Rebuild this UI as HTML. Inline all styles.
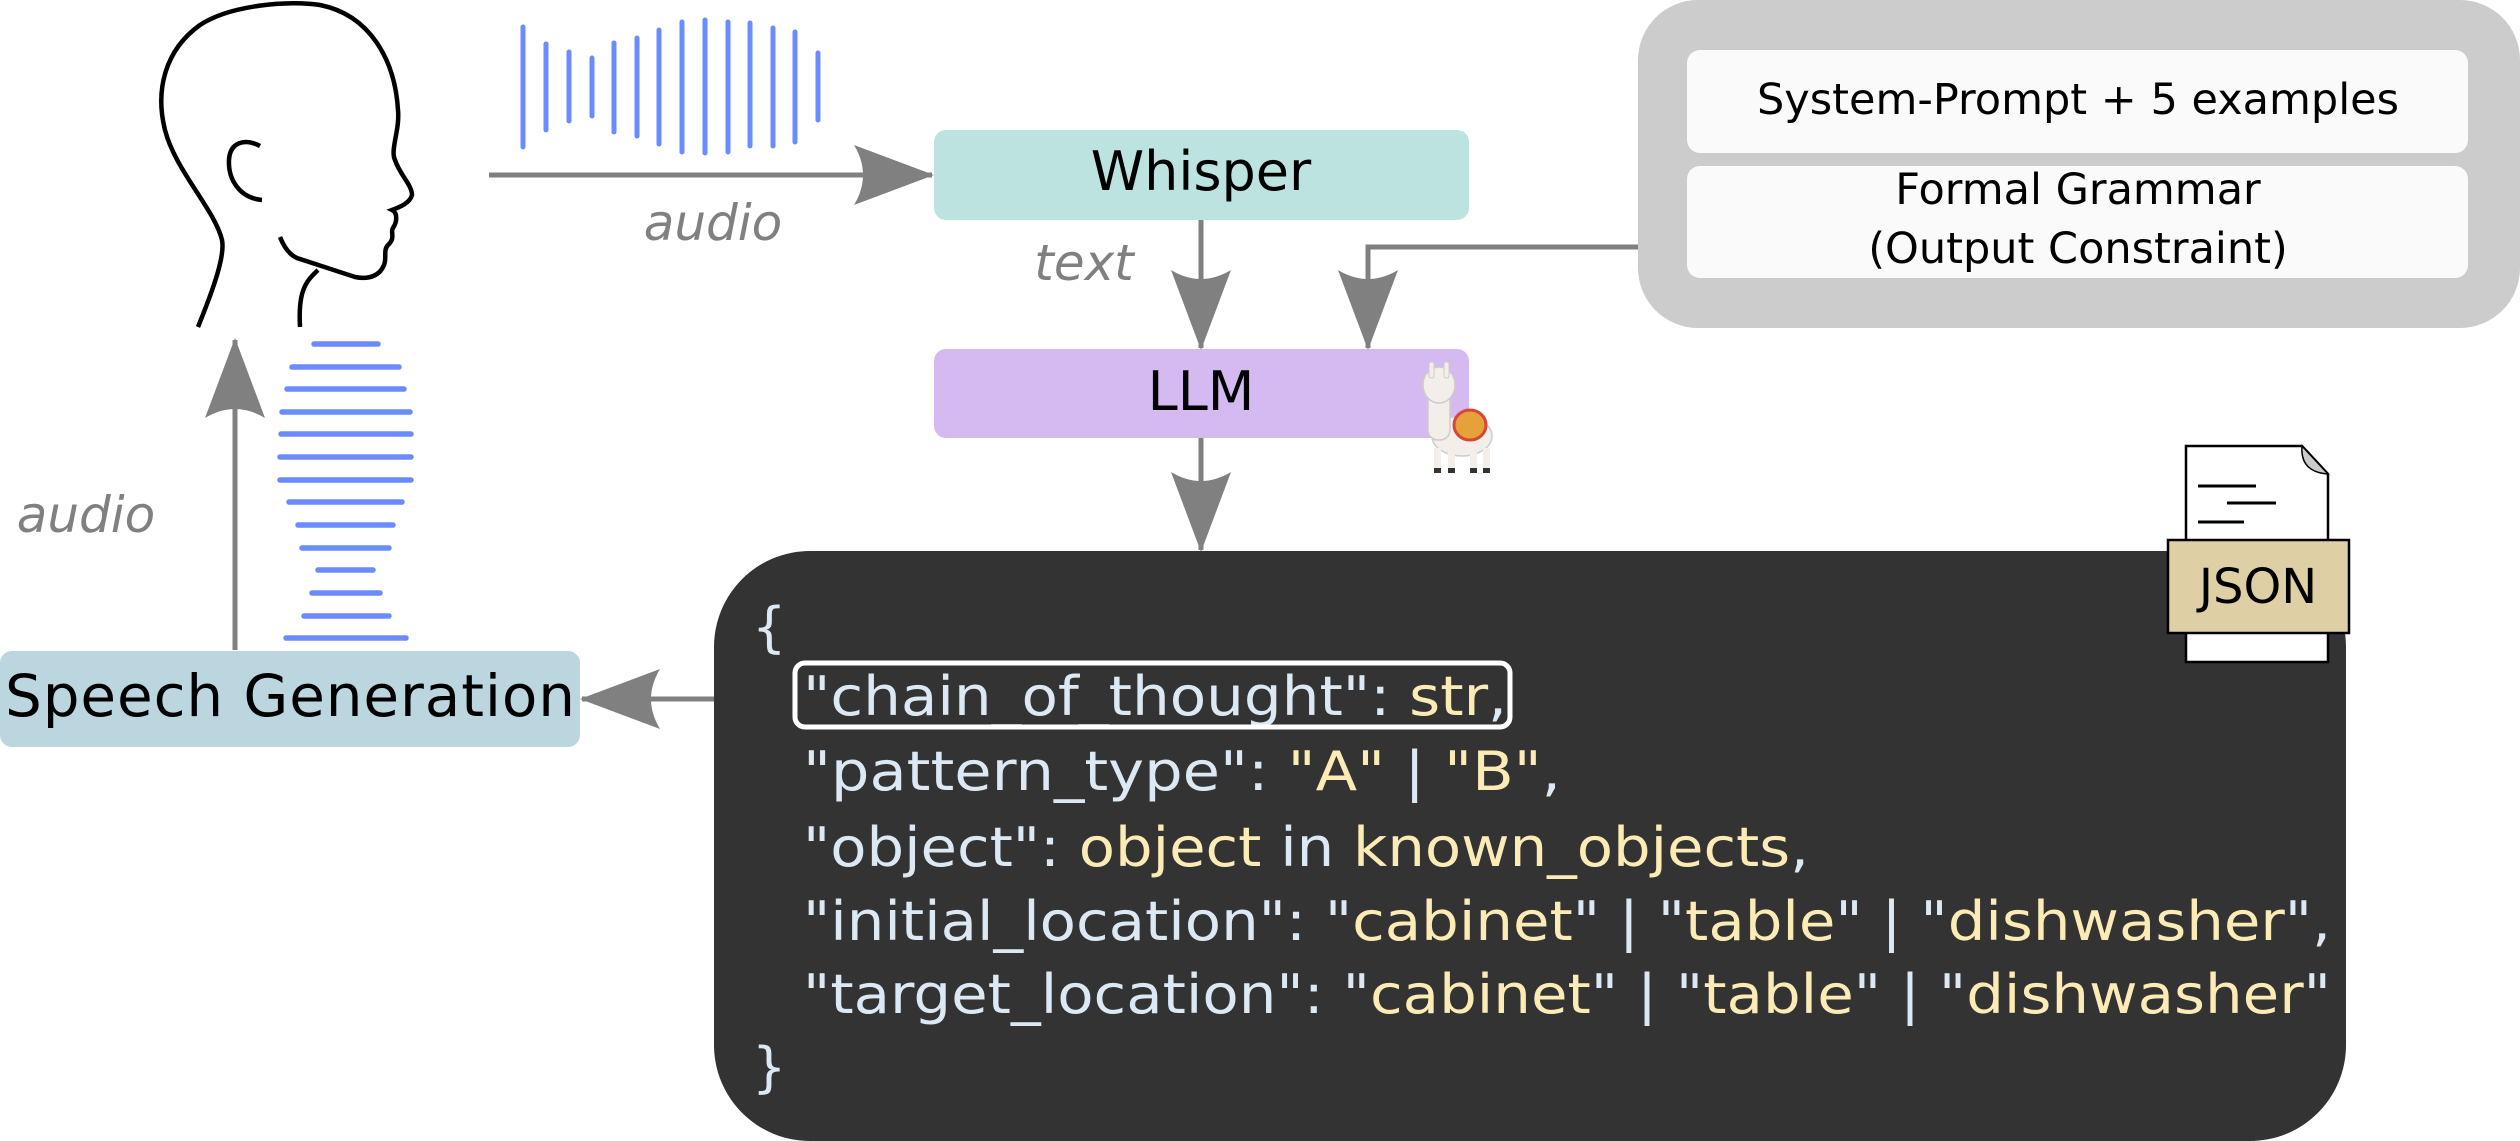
<!DOCTYPE html>
<html><head><meta charset="utf-8"><style>html,body{margin:0;padding:0;background:#fff}svg{display:block}</style></head>
<body>
<svg width="2520" height="1141" viewBox="0 0 2520 1141" xmlns="http://www.w3.org/2000/svg" font-family="DejaVu Sans, Liberation Sans, sans-serif">
<defs>
<marker id="ah" viewBox="0 0 80 60" refX="78" refY="30" markerWidth="80" markerHeight="60" markerUnits="userSpaceOnUse" orient="auto">
<path d="M0,0 L80,30 L0,60 Q18,30 0,0 Z" fill="#808080"/>
</marker>
</defs>
<!-- head -->
<g fill="none" stroke="#000" stroke-width="4.5" stroke-linecap="butt">
<path d="M198,327 C215,285 225,255 222,240 C215,210 175,170 165,130 C155,90 165,50 200,25 C230,5 290,0 320,5 C370,15 395,60 398,110 C400,130 390,150 395,160 C400,175 412,185 412,195 C410,203 400,207 392,210 C398,213 397,222 393,228 C390,232 396,238 388,245 C383,250 387,258 384,265 C380,275 370,280 355,277 L297,258 C290,255 284,247 280,237"/>
<path d="M318,270 C305,282 298,292 300,327"/>
<path d="M260,146 C245,138 230,142 229,160 C228,180 240,198 262,200"/>
</g>
<!-- waveform vertical -->
<g stroke="#6b8cff" stroke-width="5" stroke-linecap="round">
<line x1="523" y1="27" x2="523" y2="147"/><line x1="546" y1="44" x2="546" y2="130"/>
<line x1="569" y1="52" x2="569" y2="121"/><line x1="592" y1="58" x2="592" y2="116"/>
<line x1="614" y1="43" x2="614" y2="132"/><line x1="637" y1="38" x2="637" y2="136"/>
<line x1="659" y1="30" x2="659" y2="144"/><line x1="682" y1="22" x2="682" y2="152"/>
<line x1="705" y1="20" x2="705" y2="153"/><line x1="728" y1="22" x2="728" y2="152"/>
<line x1="750" y1="23" x2="750" y2="146"/><line x1="773" y1="28" x2="773" y2="146"/>
<line x1="795" y1="32" x2="795" y2="142"/><line x1="818" y1="53" x2="818" y2="120"/>
</g>
<!-- waveform horizontal -->
<g stroke="#6b8cff" stroke-width="5.5" stroke-linecap="round">
<line x1="314" y1="344" x2="378" y2="344"/><line x1="292" y1="367" x2="399" y2="367"/>
<line x1="287" y1="389" x2="404" y2="389"/><line x1="282" y1="412" x2="410" y2="412"/>
<line x1="281" y1="434" x2="411" y2="434"/><line x1="280" y1="457" x2="411" y2="457"/>
<line x1="280" y1="480" x2="411" y2="480"/><line x1="289" y1="502" x2="402" y2="502"/>
<line x1="298" y1="525" x2="393" y2="525"/><line x1="302" y1="548" x2="389" y2="548"/>
<line x1="318" y1="570" x2="373" y2="570"/><line x1="312" y1="593" x2="380" y2="593"/>
<line x1="304" y1="616" x2="389" y2="616"/><line x1="286" y1="638" x2="406" y2="638"/>
</g>
<!-- grey panel -->
<rect x="1638" y="0" width="882" height="328" rx="60" fill="#cccccc"/>
<rect x="1687" y="50" width="781" height="103" rx="13" fill="#fafafa"/>
<rect x="1687" y="166" width="781" height="112" rx="13" fill="#fafafa"/>
<g font-size="43" text-anchor="middle" fill="#000">
<text x="2078" y="114">System-Prompt + 5 examples</text>
<text x="2078" y="204">Formal Grammar</text>
<text x="2078" y="263">(Output Constraint)</text>
</g>
<!-- boxes -->
<rect x="934" y="130" width="535" height="90" rx="12" fill="#bde3e0"/>
<text x="1201" y="190" font-size="54" text-anchor="middle">Whisper</text>
<rect x="934" y="349" width="535" height="89" rx="12" fill="#d4baf0"/>
<text x="1201" y="410" font-size="54" text-anchor="middle">LLM</text>
<rect x="0" y="651" width="580" height="96" rx="12" fill="#bcd6e0"/>
<text x="290" y="716" font-size="58" text-anchor="middle" textLength="570">Speech Generation</text>
<!-- arrows -->
<g stroke="#808080" stroke-width="5" fill="none">
<line x1="489" y1="175" x2="932" y2="175" marker-end="url(#ah)"/>
<line x1="1201" y1="220" x2="1201" y2="348" marker-end="url(#ah)"/>
<polyline points="1638,247 1368,247 1368,348" marker-end="url(#ah)"/>
<line x1="1201" y1="438" x2="1201" y2="550" marker-end="url(#ah)"/>
<line x1="795" y1="699" x2="582" y2="699" marker-end="url(#ah)"/>
<line x1="235" y1="650" x2="235" y2="340" marker-end="url(#ah)"/>
</g>
<g font-size="50" font-style="italic" fill="#808080" text-anchor="middle">
<text x="713" y="240">audio</text>
<text x="1084" y="280">text</text>
<text x="86" y="532">audio</text>
</g>
<!-- llama -->
<g>
<ellipse cx="1462" cy="436" rx="30" ry="20" fill="#f3eeea" stroke="#ccc" stroke-width="1.5"/>
<rect x="1428" y="380" width="22" height="60" rx="10" fill="#f3eeea" stroke="#ccc" stroke-width="1.5"/>
<ellipse cx="1439" cy="385" rx="16" ry="18" fill="#f3eeea" stroke="#ccc" stroke-width="1.5"/>
<rect x="1429" y="362" width="5" height="16" rx="2" fill="#f3eeea" stroke="#ccc"/>
<rect x="1444" y="362" width="5" height="16" rx="2" fill="#f3eeea" stroke="#ccc"/>
<ellipse cx="1470" cy="425" rx="16" ry="15" fill="#e5a23a" stroke="#d9453a" stroke-width="3"/>
<rect x="1434" y="448" width="7" height="24" fill="#f3eeea"/><rect x="1448" y="448" width="7" height="24" fill="#f3eeea"/>
<rect x="1470" y="448" width="7" height="24" fill="#f3eeea"/><rect x="1483" y="448" width="7" height="24" fill="#f3eeea"/>
<g fill="#333"><rect x="1434" y="468" width="7" height="5"/><rect x="1448" y="468" width="7" height="5"/><rect x="1470" y="468" width="7" height="5"/><rect x="1483" y="468" width="7" height="5"/></g>
</g>
<!-- dark code box -->
<rect x="714" y="551" width="1632" height="590" rx="96" fill="#333333"/>
<g font-size="54" fill="#dce9f5">
<text x="752" y="646">{</text>
<text x="803" y="715" textLength="704" lengthAdjust="spacingAndGlyphs">"chain_of_thought": <tspan fill="#fdebb5">str</tspan>,</text>
<text x="803" y="790" textLength="758" lengthAdjust="spacingAndGlyphs">"pattern_type":  <tspan fill="#fdebb5">"A"</tspan> | <tspan fill="#fdebb5">"B"</tspan>,</text>
<text x="803" y="866" textLength="1006" lengthAdjust="spacingAndGlyphs">"object": <tspan fill="#fdebb5">object</tspan> in <tspan fill="#fdebb5">known_objects</tspan>,</text>
<text x="803" y="940" textLength="1528" lengthAdjust="spacingAndGlyphs">"initial_location": "<tspan fill="#fdebb5">cabinet</tspan>" | "<tspan fill="#fdebb5">table</tspan>" | "<tspan fill="#fdebb5">dishwasher</tspan>",</text>
<text x="803" y="1013" textLength="1528" lengthAdjust="spacingAndGlyphs">"target_location": "<tspan fill="#fdebb5">cabinet</tspan>" | "<tspan fill="#fdebb5">table</tspan>" | "<tspan fill="#fdebb5">dishwasher</tspan>"</text>
<text x="752" y="1086">}</text>
</g>
<rect x="795" y="663" width="715" height="64" rx="10" fill="none" stroke="#fff" stroke-width="5"/>
<!-- JSON doc -->
<path d="M2186,446 L2302,446 L2328,474 L2328,662 L2186,662 Z" fill="#fff" stroke="#000" stroke-width="2.5"/>
<path d="M2302,446 Q2300,472 2328,474 Z" fill="#ccc" stroke="#000" stroke-width="1.5"/>
<g stroke="#000" stroke-width="3"><line x1="2198" y1="486" x2="2256" y2="486"/><line x1="2227" y1="503" x2="2276" y2="503"/><line x1="2198" y1="522" x2="2244" y2="522"/></g>
<rect x="2168" y="540" width="181" height="93" fill="#dfcfa5" stroke="#000" stroke-width="2.5"/>
<text x="2258" y="603" font-size="48" text-anchor="middle" fill="#000">JSON</text>
</svg>
</body></html>
